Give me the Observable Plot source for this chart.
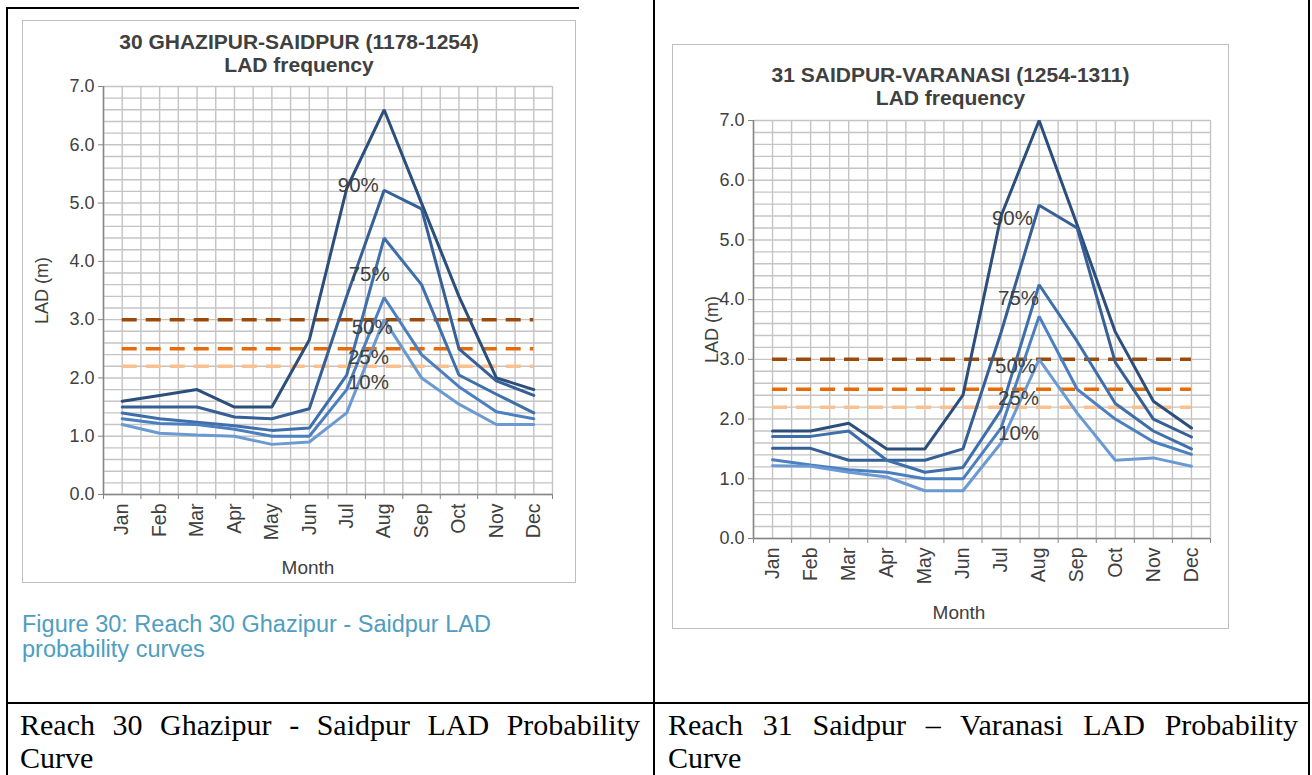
<!DOCTYPE html>
<html><head><meta charset="utf-8">
<script src="https://cdn.jsdelivr.net/npm/d3@7"></script>
<script src="https://cdn.jsdelivr.net/npm/@observablehq/plot@0.6"></script>
<style>
html,body{margin:0;padding:0;background:#fff;}
body{width:1312px;height:775px;overflow:hidden;position:relative;font-family:"Liberation Sans",Arial,sans-serif;}
.frame{position:absolute;border:1.5px solid #bfbfbf;box-sizing:border-box;}
.svgbox{position:absolute;}
.title{position:absolute;text-align:center;font-weight:bold;color:#404040;font-size:21px;line-height:23px;white-space:nowrap;}
.rule{position:absolute;background:#000;}
.cell{position:absolute;font-family:"Liberation Serif","Times New Roman",serif;font-size:30px;line-height:33px;text-align:justify;color:#000;}
.caption{position:absolute;color:#4f9dc0;font-size:23.5px;line-height:25px;}
</style></head><body>

<div class="rule" style="left:7px;top:7px;width:572px;height:2px"></div>
<div class="rule" style="left:6px;top:7px;width:2px;height:768px"></div>
<div class="rule" style="left:653px;top:0px;width:2px;height:775px"></div>
<div class="rule" style="left:1308px;top:0px;width:2px;height:775px"></div>
<div class="rule" style="left:6px;top:702px;width:1304px;height:2px"></div>

<div class="frame" style="left:22px;top:20px;width:554px;height:563px"></div>
<div class="frame" style="left:672px;top:44px;width:557px;height:585px"></div>

<div id="c1" class="svgbox" style="left:22px;top:20px"></div>
<div id="c2" class="svgbox" style="left:672px;top:44px"></div>

<div class="title" style="left:22px;width:554px;top:30px">30 GHAZIPUR-SAIDPUR (1178-1254)<br>LAD frequency</div>
<div class="title" style="left:672px;width:557px;top:63px">31 SAIDPUR-VARANASI (1254-1311)<br>LAD frequency</div>

<div class="caption" style="left:22px;top:612px">Figure 30: Reach 30 Ghazipur - Saidpur LAD<br>probability curves</div>

<div class="cell" style="left:20px;top:708px;width:620px">Reach 30 Ghazipur - Saidpur LAD Probability Curve</div>
<div class="cell" style="left:668px;top:708px;width:630px">Reach 31 Saidpur – Varanasi LAD Probability Curve</div>

<script>
// ---- data ----
const months = ["Jan","Feb","Mar","Apr","May","Jun","Jul","Aug","Sep","Oct","Nov","Dec"];
const seriesNames = ["90%","75%","50%","25%","10%"];

// Reach 30 Ghazipur-Saidpur (LAD, m)
const r30_p90 = [1.6, 1.7, 1.8, 1.5, 1.5, 2.65, 5.25, 6.6, 5.0, 3.4, 2.0, 1.8];
const r30_p75 = [1.5, 1.5, 1.5, 1.33, 1.3, 1.47, 3.4, 5.22, 4.9, 2.5, 1.95, 1.7];
const r30_p50 = [1.4, 1.3, 1.24, 1.18, 1.1, 1.14, 2.05, 4.4, 3.6, 2.05, 1.72, 1.4];
const r30_p25 = [1.3, 1.22, 1.2, 1.12, 1.0, 1.0, 1.8, 3.38, 2.4, 1.85, 1.42, 1.3];
const r30_p10 = [1.2, 1.05, 1.02, 1.0, 0.86, 0.9, 1.4, 3.0, 2.0, 1.55, 1.2, 1.2];

// Reach 31 Saidpur-Varanasi (LAD, m)
const r31_p90 = [1.8, 1.8, 1.93, 1.5, 1.5, 2.4, 5.4, 7.0, 5.25, 3.46, 2.3, 1.85];
const r31_p75 = [1.51, 1.51, 1.31, 1.31, 1.31, 1.5, 3.45, 5.58, 5.2, 2.95, 2.0, 1.7];
const r31_p50 = [1.71, 1.71, 1.8, 1.31, 1.11, 1.19, 2.15, 4.25, 3.3, 2.26, 1.8, 1.5];
const r31_p25 = [1.32, 1.23, 1.15, 1.11, 1.0, 1.0, 1.85, 3.72, 2.5, 2.0, 1.62, 1.41];
const r31_p10 = [1.22, 1.21, 1.11, 1.03, 0.8, 0.8, 1.6, 3.0, 2.1, 1.31, 1.35, 1.21];

// threshold depths (m)
const thresholds = [3.0, 2.5, 2.2];

// label anchors: [text, month position (0..12), LAD]
const r30_labels = [["90%", 6.81, 5.3], ["75%", 7.1, 3.77], ["50%", 7.18, 2.86], ["25%", 7.08, 2.35], ["10%", 7.08, 1.92]];
const r31_labels = [["90%", 6.8, 5.36], ["75%", 6.96, 4.02], ["50%", 6.88, 2.88], ["25%", 6.96, 2.34], ["10%", 6.96, 1.76]];

const yTicks = [0, 1, 2, 3, 4, 5, 6, 7];

// ---- styles ----
const blues = ["#2c4e7b", "#365f95", "#3f6fab", "#4b7fc0", "#6b9ad2"];
const thresholdColors = ["#9c4a0c", "#e46c0a", "#fac08f"];

function makeChart(series, labels, opt) {
  const rows = [];
  series.forEach((vals, k) => vals.forEach((v, i) => rows.push({s: seriesNames[k], x: i + 0.5, v})));
  const lab = labels.map(([t, x, v]) => ({t, x, v}));
  return Plot.plot({
    width: opt.W, height: opt.H,
    marginLeft: opt.mL, marginRight: opt.mR, marginTop: opt.mT, marginBottom: opt.mB,
    style: {fontFamily: "'Liberation Sans', Arial, sans-serif", fontSize: "18px", color: "#404040", background: "transparent", overflow: "visible"},
    x: {type: "linear", domain: [0, 12]},
    y: {type: "linear", domain: [0, 7]},
    marks: [
      Plot.gridX(d3.range(0, 25).map(i => i / 2), {stroke: "#c4c4c4", strokeOpacity: 1, strokeWidth: 1.4}),
      Plot.gridY(d3.range(0, 36).map(i => i / 5), {stroke: "#c4c4c4", strokeOpacity: 1, strokeWidth: 1.4}),
      ...thresholds.map((t, k) => Plot.ruleY([t], {x1: 0.5, x2: 11.5, stroke: thresholdColors[k], strokeWidth: 3.5, strokeDasharray: "15,9"})),
      ...seriesNames.map((s, k) => Plot.line(rows.filter(r => r.s === s), {x: "x", y: "v", stroke: blues[k], strokeWidth: 3, strokeLinejoin: "miter"})),
      Plot.text(lab, {x: "x", y: "v", text: "t", fill: "#404040", fontSize: 20.5}),
      Plot.ruleX([0], {stroke: "#868686", strokeWidth: 1.5}),
      Plot.ruleY([0], {stroke: "#868686", strokeWidth: 1.5}),
      Plot.axisY({ticks: yTicks, tickFormat: d3.format(".1f"), tickSize: 5, tickPadding: 4, stroke: "#868686", fill: "#404040", label: "LAD (m)", labelAnchor: "center", labelArrow: "none", labelOffset: opt.yLabOff}),
      Plot.axisX({ticks: d3.range(0, 13), tickFormat: () => "", tickSize: 5, stroke: "#868686", label: null}),
      Plot.axisX({ticks: months.map((m, i) => i + 0.5), tickFormat: d => months[Math.floor(d)], tickSize: 0, tickPadding: 9, tickRotate: -90, fontSize: 19.5, fill: "#404040", label: null}),
      Plot.text(["Month"], {frameAnchor: "bottom", dx: opt.xLabDx, dy: opt.xLabDy, fill: "#404040", fontSize: 19})
    ]
  });
}

document.getElementById("c1").append(makeChart([r30_p90, r30_p75, r30_p50, r30_p25, r30_p10], r30_labels,
  {W: 553, H: 562, mL: 81, mR: 23, mT: 66, mB: 88, yLabOff: 68, xLabDx: -20, xLabDy: 79}));
document.getElementById("c2").append(makeChart([r31_p90, r31_p75, r31_p50, r31_p25, r31_p10], r31_labels,
  {W: 556, H: 584, mL: 81, mR: 18, mT: 76, mB: 90, yLabOff: 48, xLabDx: -23, xLabDy: 80}));
</script>
</body></html>
